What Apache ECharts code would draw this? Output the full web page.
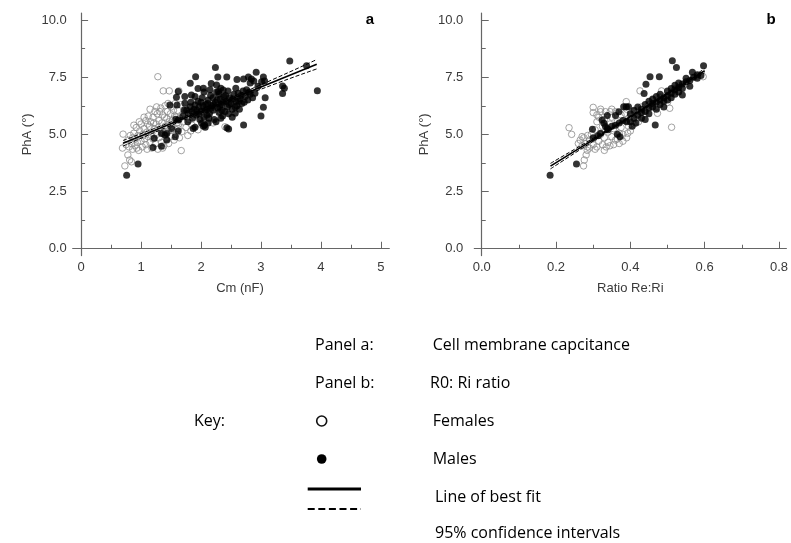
<!DOCTYPE html>
<html>
<head>
<meta charset="utf-8">
<title>PhA vs Cm and Re:Ri</title>
<script src="https://cdn.jsdelivr.net/npm/echarts@6/dist/echarts.min.js"></script>
<style>
  html, body { margin: 0; padding: 0; background: #fff; }
  #chart { width: 791px; height: 543px; }
</style>
</head>
<body>
<div id="chart"></div>
<script>
// tick values
var yTicks = [0, 2.5, 5, 7.5, 10];
var yMinor = [1.25, 3.75, 6.25, 8.75];
var xTicksA = [0, 1, 2, 3, 4, 5];
var xMinorA = [0.5, 1.5, 2.5, 3.5, 4.5];
var xTicksB = [0, 0.2, 0.4, 0.6, 0.8];
var xMinorB = [0.1, 0.3, 0.5, 0.7];

// panel a: [Cm (nF), PhA]
var femalesA = [
  [0.70, 5.01], [0.69, 4.40], [0.73, 3.62], [0.78, 4.10], [0.81, 3.88], [0.84, 3.80],
  [1.28, 7.52], [1.37, 6.90], [1.47, 6.90], [1.63, 6.90], [1.67, 4.29], [2.40, 5.33], [2.32, 5.99],
  [0.75, 4.55], [0.78, 4.75], [0.80, 4.45], [0.82, 4.95], [0.84, 4.60], [0.86, 4.35], [0.88, 5.05],
  [0.90, 4.80], [0.90, 4.50], [0.92, 5.30], [0.94, 4.65], [0.95, 4.95], [0.96, 4.30], [0.98, 5.15],
  [1.00, 4.70], [1.00, 5.45], [1.02, 4.45], [1.03, 5.00], [1.05, 5.25], [1.06, 4.80], [1.08, 5.60],
  [1.08, 4.55], [1.10, 5.10], [1.10, 4.35], [1.12, 5.80], [1.12, 4.90], [1.14, 5.35], [1.15, 4.65],
  [1.16, 5.55], [1.18, 5.05], [1.18, 4.40], [1.20, 5.75], [1.20, 4.80], [1.22, 5.25], [1.23, 6.00],
  [1.24, 4.60], [1.25, 5.45], [1.26, 5.00], [1.27, 5.90], [1.28, 4.35], [1.30, 5.60], [1.30, 4.85],
  [1.32, 5.20], [1.33, 6.15], [1.34, 4.65], [1.35, 5.50], [1.36, 5.85], [1.37, 5.05], [1.38, 4.50],
  [1.40, 6.25], [1.40, 5.35], [1.42, 4.80], [1.43, 5.70], [1.44, 6.00], [1.45, 5.15], [1.46, 4.60],
  [1.48, 5.45], [1.49, 5.90], [1.50, 4.90], [1.50, 6.20], [1.52, 5.60], [1.53, 5.20], [1.55, 4.75],
  [1.56, 5.80], [1.57, 6.35], [1.58, 5.00], [1.60, 5.50], [1.61, 6.05], [1.62, 5.25], [1.64, 4.85],
  [1.65, 5.70], [1.66, 6.30], [1.68, 5.12], [1.70, 5.55], [1.72, 5.90], [1.75, 5.30], [1.78, 4.95],
  [1.80, 5.65], [1.85, 5.40], [1.90, 5.95], [1.95, 5.20], [2.00, 5.70], [2.10, 6.20], [2.20, 5.50],
  [0.88, 5.40], [0.93, 4.40], [1.05, 5.75], [1.15, 6.10], [1.26, 6.20], [1.36, 4.40], [1.45, 6.35],
  [0.86, 4.85], [0.97, 5.55], [1.04, 4.95], [1.11, 5.45], [1.17, 4.95], [1.21, 5.50], [1.29, 5.30],
  [1.31, 6.00], [1.39, 5.75], [1.41, 5.10], [1.47, 5.55], [1.51, 5.35], [1.54, 6.05], [1.59, 5.75],
  [1.63, 5.45], [1.69, 5.85], [1.74, 6.10], [1.83, 5.15], [2.05, 5.45], [2.15, 6.00]
];
var malesA = [
  [0.76, 3.21], [0.95, 3.70], [1.20, 4.42], [1.34, 4.48], [1.22, 4.83], [1.34, 5.04], [1.43, 4.75],
  [1.43, 5.04], [1.51, 5.26], [1.40, 4.97], [1.57, 4.90], [1.62, 5.15], [1.62, 5.63], [1.58, 5.66],
  [1.48, 6.28], [1.59, 6.62], [1.62, 6.87], [1.60, 6.28], [1.73, 6.65], [1.73, 6.36], [1.82, 7.23],
  [1.91, 7.52], [1.84, 6.72], [1.90, 6.65], [1.82, 6.21], [1.90, 6.28], [1.79, 5.92], [1.87, 5.26],
  [1.86, 5.70], [1.90, 5.31], [2.04, 5.37], [2.07, 5.31], [2.01, 5.48], [2.06, 5.41],
  [1.70, 5.80], [1.72, 6.05], [1.78, 5.55], [1.83, 6.40], [1.88, 6.10], [1.92, 5.85], [1.95, 6.45],
  [1.97, 6.20], [2.00, 6.00], [2.02, 6.60], [2.05, 5.75], [2.08, 6.30], [2.10, 6.10], [2.12, 6.50],
  [2.14, 5.90], [2.16, 6.70], [2.18, 6.25], [2.20, 6.05], [2.22, 5.65], [2.24, 6.40], [2.26, 6.85],
  [2.28, 6.15], [2.30, 5.95], [2.32, 6.55], [2.34, 6.30], [2.36, 5.80], [2.38, 6.65], [2.40, 6.00],
  [2.42, 6.45], [2.44, 6.20], [2.46, 5.90], [2.48, 6.60], [2.50, 6.35], [2.52, 6.10], [2.55, 6.75],
  [2.58, 6.45], [2.60, 6.25], [2.62, 6.80], [2.65, 6.55], [2.68, 6.35], [2.70, 6.90], [2.74, 6.65],
  [2.78, 6.50], [2.82, 6.75], [2.86, 6.60], [2.90, 6.80], [1.98, 5.65], [2.12, 5.50], [2.25, 5.55],
  [2.35, 6.05], [2.05, 6.85], [2.15, 6.95], [1.95, 7.00], [2.00, 6.40], [2.20, 6.60], [2.30, 6.75],
  [2.45, 6.90], [2.52, 5.75], [2.64, 6.10], [2.76, 6.95], [1.93, 6.05], [2.10, 5.85], [1.76, 6.06],
  [1.85, 6.00], [1.96, 5.90], [2.03, 6.25], [2.07, 6.05], [2.11, 6.35], [2.17, 6.15], [2.21, 6.30],
  [2.27, 6.50], [2.31, 6.20], [2.37, 6.40], [2.41, 6.70], [2.47, 6.30], [2.53, 6.55], [2.57, 6.20],
  [2.63, 6.45], [2.67, 6.70], [2.72, 6.40], [2.80, 6.85], [2.13, 5.70], [2.33, 5.70],
  [2.24, 7.92], [2.92, 7.71], [2.28, 7.51], [2.43, 7.51], [2.79, 7.51], [2.84, 7.42], [2.88, 7.33],
  [2.71, 7.42], [3.04, 7.51], [3.06, 7.33], [3.01, 7.30], [2.17, 7.22], [2.33, 7.01], [2.37, 6.94],
  [2.29, 6.87], [2.58, 7.01], [3.36, 7.11], [3.39, 7.01], [3.36, 6.79], [3.94, 6.91], [3.07, 6.60],
  [3.04, 6.18], [3.00, 5.80], [2.71, 5.41], [2.43, 5.29], [2.46, 5.23], [2.57, 5.92], [3.48, 8.21],
  [3.76, 8.00], [2.60, 7.40], [2.82, 7.25], [2.95, 7.10], [2.26, 7.16], [2.04, 7.01]
];
var fitA = [[0.70, 4.61], [3.93, 8.06]];
var ciUpperA = [[0.70, 4.73], [1.50, 5.54], [2.00, 6.07], [2.50, 6.61], [3.20, 7.40], [3.93, 8.27]];
var ciLowerA = [[0.70, 4.49], [1.50, 5.39], [2.00, 5.93], [2.50, 6.46], [3.20, 7.17], [3.93, 7.86]];

// panel b: [Ratio Re:Ri, PhA]
var femalesB = [
  [0.235, 5.29], [0.242, 5.00], [0.300, 6.18], [0.274, 3.62], [0.276, 3.88], [0.281, 4.10], [0.284, 4.30],
  [0.426, 6.90], [0.484, 6.90], [0.506, 6.14], [0.511, 5.31], [0.473, 5.92], [0.596, 7.52], [0.389, 6.43],
  [0.386, 5.92], [0.395, 5.70], [0.393, 5.05], [0.422, 5.55], [0.380, 4.70],
  [0.260, 4.60], [0.265, 4.75], [0.270, 4.50], [0.270, 4.90], [0.275, 4.85], [0.280, 4.60], [0.285, 4.95],
  [0.290, 4.40], [0.290, 4.75], [0.295, 5.00], [0.300, 4.55], [0.300, 4.80], [0.305, 5.20], [0.310, 4.45],
  [0.310, 5.55], [0.315, 4.70], [0.315, 5.75], [0.320, 5.00], [0.320, 5.99], [0.325, 4.55], [0.325, 5.35],
  [0.330, 4.85], [0.330, 5.65], [0.333, 5.99], [0.335, 4.45], [0.340, 5.10], [0.340, 4.65], [0.345, 5.45],
  [0.346, 5.99], [0.350, 4.90], [0.350, 5.75], [0.355, 4.55], [0.355, 5.25], [0.360, 5.99], [0.360, 4.75],
  [0.365, 5.55], [0.370, 5.05], [0.370, 4.60], [0.375, 5.85], [0.375, 5.30], [0.380, 5.00], [0.385, 5.60],
  [0.390, 4.85], [0.390, 6.10], [0.395, 5.35], [0.400, 5.15], [0.400, 5.80], [0.410, 5.45], [0.410, 6.00],
  [0.420, 5.75], [0.430, 6.20], [0.440, 5.90], [0.450, 6.30], [0.460, 6.50], [0.470, 6.20], [0.480, 6.60],
  [0.500, 6.40], [0.520, 7.00], [0.550, 7.20], [0.580, 7.55], [0.320, 6.10], [0.350, 6.10], [0.310, 5.85],
  [0.300, 5.95], [0.285, 4.45], [0.305, 4.35], [0.330, 4.30], [0.345, 4.50], [0.365, 4.80]
];
var malesB = [
  [0.184, 3.21], [0.255, 3.70], [0.298, 5.22], [0.313, 4.94], [0.324, 5.63], [0.329, 5.48], [0.333, 5.34],
  [0.338, 5.26], [0.338, 5.82], [0.360, 5.82], [0.369, 5.99], [0.382, 6.21], [0.389, 6.21], [0.395, 6.21],
  [0.513, 8.22], [0.524, 7.92], [0.597, 8.00], [0.453, 7.52], [0.478, 7.52], [0.442, 7.19], [0.437, 6.79],
  [0.567, 7.71], [0.540, 6.72], [0.467, 5.41],
  [0.300, 4.85], [0.320, 5.05], [0.340, 5.20], [0.350, 5.35], [0.360, 5.40], [0.370, 5.50], [0.380, 5.60],
  [0.390, 5.55], [0.365, 5.00], [0.372, 4.90], [0.405, 5.35], [0.415, 5.50],
  [0.40, 5.55], [0.40, 5.90], [0.41, 5.70], [0.41, 6.05], [0.42, 5.85], [0.42, 6.20], [0.43, 5.95],
  [0.43, 6.10], [0.43, 5.70], [0.44, 6.30], [0.44, 6.00], [0.44, 5.65], [0.45, 6.15], [0.45, 6.45],
  [0.45, 5.90], [0.46, 6.35], [0.46, 6.20], [0.46, 6.55], [0.47, 6.40], [0.47, 6.10], [0.47, 6.65],
  [0.48, 6.50], [0.48, 6.30], [0.48, 6.75], [0.49, 6.60], [0.49, 6.45], [0.49, 6.20], [0.50, 6.70],
  [0.50, 6.90], [0.50, 6.50], [0.51, 6.80], [0.51, 6.60], [0.51, 7.00], [0.52, 6.95], [0.52, 7.15],
  [0.52, 6.75], [0.53, 7.05], [0.53, 7.25], [0.53, 6.85], [0.54, 7.20], [0.54, 7.00], [0.55, 7.30],
  [0.55, 7.45], [0.56, 7.35], [0.56, 7.10], [0.57, 7.50], [0.58, 7.60], [0.58, 7.45], [0.59, 7.57]
];
var fitB = [[0.185, 3.61], [0.600, 7.78]];
var ciUpperB = [[0.185, 3.73], [0.30, 4.83], [0.40, 5.81], [0.45, 6.31], [0.52, 7.03], [0.60, 7.87]];
var ciLowerB = [[0.185, 3.49], [0.30, 4.70], [0.40, 5.73], [0.45, 6.23], [0.52, 6.92], [0.60, 7.69]];

var chart = echarts.init(document.getElementById("chart"));

var tickFont = { color: "#3a3a3a", fontSize: 13, fontFamily: "Liberation Sans" };
var axisGrey = "#666";

function majorY(grid, gap, margin) {
  return {
    gridIndex: grid, type: "value", position: "left", min: -0.3, max: 10.3,
    axisLine: { show: true, lineStyle: { color: axisGrey, width: 1.2 } },
    axisTick: { show: true, inside: true, length: 7, customValues: yTicks, lineStyle: { color: axisGrey } },
    axisLabel: Object.assign({ customValues: yTicks, margin: margin, formatter: function (v) { return v.toFixed(1); } }, tickFont),
    splitLine: { show: false },
    name: "PhA (°)", nameLocation: "middle", nameGap: gap, nameRotate: 90,
    nameTextStyle: tickFont
  };
}
function minorY(grid) {
  return {
    gridIndex: grid, type: "value", position: "left", offset: 0, min: -0.3, max: 10.3,
    axisLine: { show: false },
    axisTick: { show: true, inside: true, length: 4, customValues: yMinor, lineStyle: { color: axisGrey } },
    axisLabel: { show: false }, splitLine: { show: false }
  };
}
function majorX(grid, min, max, ticks, digits, name, pad) {
  return {
    gridIndex: grid, type: "value", position: "bottom", min: min, max: max,
    axisLine: { show: true, lineStyle: { color: axisGrey, width: 1.2 } },
    axisTick: { show: true, inside: true, length: 7, customValues: ticks, lineStyle: { color: axisGrey } },
    axisLabel: Object.assign({ customValues: ticks, margin: 5, formatter: function (v) { return v.toFixed(digits); } }, tickFont),
    splitLine: { show: false },
    name: name, nameLocation: "middle", nameGap: 26,
    nameTextStyle: Object.assign({ padding: pad }, tickFont)
  };
}
function minorX(grid, min, max, ticks) {
  return {
    gridIndex: grid, type: "value", position: "bottom", offset: 0, min: min, max: max,
    axisLine: { show: false },
    axisTick: { show: true, inside: true, length: 4, customValues: ticks, lineStyle: { color: axisGrey } },
    axisLabel: { show: false }, splitLine: { show: false }
  };
}

function scatter(data, xi, yi, filled) {
  return {
    type: "scatter", xAxisIndex: xi, yAxisIndex: yi, data: data,
    symbol: "circle", symbolSize: filled ? 7 : 6.5,
    itemStyle: filled ? { color: "#000" } : { color: "rgba(255,255,255,0)", borderColor: "#8c8c8c", borderWidth: 1 },
    emphasis: { disabled: true }, z: filled ? 3 : 2
  };
}
function line(data, xi, yi, dashed) {
  return {
    type: "line", xAxisIndex: xi, yAxisIndex: yi, data: data, symbol: "none", smooth: dashed,
    lineStyle: { color: "#000", width: dashed ? 1 : 1.6, type: dashed ? [4, 2] : "solid" },
    emphasis: { disabled: true }, z: 5
  };
}

var keyFont = '16px "Open Sans", sans-serif';
function keyText(x, y, s) {
  return { type: "text", x: x, y: y, style: { text: s, font: keyFont, fill: "#000", verticalAlign: "middle" } };
}

var option = {
  animation: false,
  backgroundColor: "#fff",
  grid: [
    { left: 72.7, top: 13.1, width: 316.6, height: 242.5 },
    { left: 474.3, top: 13.1, width: 315.7, height: 242.5 }
  ],
  xAxis: [
    majorX(0, -0.14, 5.14, xTicksA, 0, "Cm (nF)", [0, 0, 0, 18]),
    minorX(0, -0.14, 5.14, xMinorA),
    majorX(1, -0.02, 0.82, xTicksB, 1, "Ratio Re:Ri", [0, 0, 0, 0]),
    minorX(1, -0.02, 0.82, xMinorB)
  ],
  yAxis: [
    majorY(0, 39, 6),
    minorY(0),
    majorY(1, 43, 11),
    minorY(1)
  ],
  series: [
    scatter(femalesA, 0, 0, false),
    scatter(malesA, 0, 0, true),
    line(fitA, 0, 0, false),
    line(ciUpperA, 0, 0, true),
    line(ciLowerA, 0, 0, true),
    scatter(femalesB, 2, 2, false),
    scatter(malesB, 2, 2, true),
    line(fitB, 2, 2, false),
    line(ciUpperB, 2, 2, true),
    line(ciLowerB, 2, 2, true)
  ],
  graphic: [
    { type: "text", x: 370, y: 20, style: { text: "a", font: 'bold 15px "Liberation Sans", Arial', fill: "#000", align: "center", verticalAlign: "middle" } },
    { type: "text", x: 771, y: 20, style: { text: "b", font: 'bold 15px "Liberation Sans", Arial', fill: "#000", align: "center", verticalAlign: "middle" } },
    keyText(315, 345, "Panel a:"),
    keyText(432.7, 345, "Cell membrane capcitance"),
    keyText(315, 383, "Panel b:"),
    keyText(430, 383, "R0: Ri ratio"),
    keyText(194, 421, "Key:"),
    { type: "circle", shape: { cx: 321.7, cy: 421, r: 5 }, style: { fill: "rgba(0,0,0,0)", stroke: "#111", lineWidth: 1.6 } },
    keyText(432.7, 421, "Females"),
    { type: "circle", shape: { cx: 321.7, cy: 459, r: 4.8 }, style: { fill: "#000" } },
    keyText(432.7, 459, "Males"),
    { type: "line", shape: { x1: 307.7, y1: 489, x2: 361, y2: 489 }, style: { stroke: "#000", lineWidth: 3 } },
    keyText(435, 497, "Line of best fit"),
    { type: "line", shape: { x1: 307.7, y1: 509, x2: 361, y2: 509 }, style: { stroke: "#000", lineWidth: 2, lineDash: [7, 3.6] } },
    keyText(435, 533, "95% confidence intervals")
  ]
};

chart.setOption(option);
</script>
</body>
</html>
